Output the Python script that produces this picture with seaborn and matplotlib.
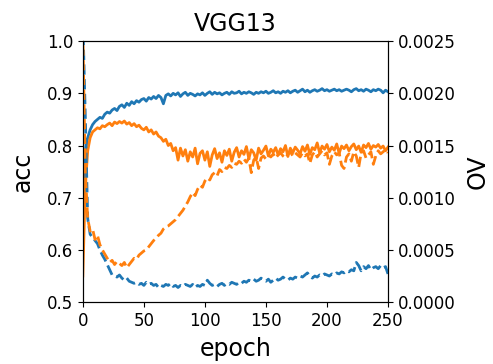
import matplotlib
matplotlib.use("Agg")
import matplotlib.pyplot as plt
import seaborn as sns
import numpy as np

epochs = list(range(0, 251, 2))

acc_blue = [
    0.64, 0.79, 0.815, 0.830, 0.840, 0.846, 0.850, 0.854, 0.852, 0.860,
    0.864, 0.862, 0.868, 0.871, 0.867, 0.875, 0.878, 0.873, 0.881, 0.877,
    0.884, 0.880, 0.886, 0.883, 0.888, 0.890, 0.885, 0.892, 0.889, 0.894,
    0.890, 0.896, 0.892, 0.880, 0.896, 0.899, 0.895, 0.900, 0.897, 0.901,
    0.894, 0.899, 0.902, 0.896, 0.900, 0.898, 0.895, 0.899, 0.897, 0.901,
    0.896, 0.900, 0.903, 0.898, 0.902, 0.899, 0.901, 0.897, 0.900, 0.902,
    0.898, 0.903, 0.900, 0.901, 0.904, 0.899, 0.902, 0.900, 0.903, 0.901,
    0.898, 0.902, 0.900, 0.903, 0.901, 0.904, 0.900, 0.902, 0.905, 0.901,
    0.903, 0.900, 0.904, 0.902, 0.905, 0.901, 0.904, 0.906, 0.902, 0.905,
    0.908, 0.903, 0.906, 0.902, 0.905, 0.907, 0.904, 0.906, 0.909, 0.905,
    0.907, 0.904, 0.906, 0.908, 0.905, 0.907, 0.904, 0.906, 0.908, 0.906,
    0.903, 0.907, 0.909, 0.905, 0.907, 0.904, 0.908, 0.906, 0.903, 0.907,
    0.905, 0.908, 0.906, 0.901, 0.906, 0.903,
]

acc_orange = [
    0.55, 0.72, 0.79, 0.815, 0.826, 0.830, 0.834, 0.832, 0.838, 0.836,
    0.840, 0.843, 0.838, 0.845, 0.842, 0.846, 0.843, 0.847, 0.841, 0.844,
    0.838, 0.842, 0.836, 0.839, 0.833, 0.830, 0.835, 0.826, 0.830, 0.822,
    0.826, 0.818, 0.815, 0.808, 0.812, 0.800, 0.804, 0.790, 0.796, 0.772,
    0.795, 0.780, 0.792, 0.770, 0.788, 0.778, 0.795, 0.765, 0.785, 0.790,
    0.772, 0.788, 0.760, 0.782, 0.794, 0.775, 0.786, 0.768, 0.790, 0.781,
    0.793, 0.770, 0.787, 0.796, 0.778, 0.790, 0.783, 0.798, 0.775, 0.792,
    0.786, 0.772, 0.795, 0.784, 0.791, 0.799, 0.780, 0.793, 0.787, 0.796,
    0.782, 0.794, 0.788, 0.800, 0.779, 0.795, 0.786, 0.797, 0.791, 0.784,
    0.798, 0.789, 0.801, 0.783, 0.796, 0.792, 0.805, 0.786, 0.799, 0.793,
    0.802, 0.788, 0.797, 0.791, 0.803, 0.785, 0.799, 0.794, 0.801, 0.790,
    0.798, 0.803, 0.792, 0.799, 0.787, 0.801, 0.796, 0.804, 0.793, 0.800,
    0.797, 0.802, 0.795, 0.799, 0.790, 0.797,
]

ov_blue = [
    0.00270, 0.00180, 0.00080, 0.00065, 0.00062, 0.00059, 0.00056, 0.00050, 0.00045, 0.00041,
    0.00036, 0.00031, 0.00026, 0.00025, 0.00024, 0.00026, 0.00023, 0.00021, 0.00023, 0.00020,
    0.00019, 0.00018, 0.00019, 0.00017, 0.00018, 0.00016, 0.00019, 0.00017, 0.00018, 0.00016,
    0.00017, 0.00014, 0.00016, 0.00015, 0.00017, 0.00016, 0.00018, 0.00015, 0.00016, 0.00014,
    0.00016, 0.00015, 0.00017, 0.00016, 0.00015, 0.00017, 0.00014, 0.00016, 0.00015, 0.00017,
    0.00016, 0.00021, 0.00018, 0.00016, 0.00017, 0.00015, 0.00017, 0.00018, 0.00016, 0.00018,
    0.00017, 0.00019, 0.00018, 0.00017, 0.00019, 0.00018, 0.00020, 0.00019, 0.00021, 0.00020,
    0.00022, 0.00020, 0.00021, 0.00023, 0.00021, 0.00020, 0.00022, 0.00019, 0.00021, 0.00023,
    0.00021, 0.00022, 0.00024, 0.00022, 0.00021, 0.00023, 0.00022, 0.00024, 0.00023, 0.00025,
    0.00024, 0.00026, 0.00028, 0.00025, 0.00023, 0.00025, 0.00024, 0.00026, 0.00025, 0.00027,
    0.00026, 0.00025, 0.00027, 0.00026, 0.00028, 0.00027, 0.00029, 0.00028, 0.00030, 0.00029,
    0.00031, 0.00030, 0.00038, 0.00035, 0.00030, 0.00034, 0.00032, 0.00035, 0.00031, 0.00033,
    0.00034, 0.00032, 0.00035, 0.00033, 0.00034, 0.00027,
]

ov_orange = [
    0.00260, 0.00125, 0.00080, 0.00068, 0.00070, 0.00060, 0.00064, 0.00055, 0.00050, 0.00046,
    0.00042, 0.00038, 0.00040, 0.00036, 0.00039, 0.00037, 0.00035, 0.00038, 0.00033, 0.00036,
    0.00039, 0.00042, 0.00041, 0.00045, 0.00047, 0.00049, 0.00050, 0.00053, 0.00056, 0.00059,
    0.00061, 0.00064, 0.00066, 0.00070, 0.00072, 0.00073, 0.00075, 0.00077, 0.00079, 0.00082,
    0.00085, 0.00088, 0.00092, 0.00096, 0.00101, 0.00105, 0.00102, 0.00108, 0.00112, 0.00110,
    0.00116, 0.00119, 0.00117, 0.00122, 0.00124, 0.00121, 0.00127, 0.00125, 0.00129, 0.00128,
    0.00131, 0.00129, 0.00133, 0.00132, 0.00135, 0.00133, 0.00137, 0.00134, 0.00138, 0.00124,
    0.00136, 0.00139, 0.00128, 0.00138, 0.00140, 0.00137, 0.00141, 0.00139, 0.00142, 0.00138,
    0.00141, 0.00143, 0.00140, 0.00138, 0.00142, 0.00144, 0.00140, 0.00143, 0.00141, 0.00139,
    0.00143, 0.00140, 0.00142, 0.00133, 0.00141, 0.00144, 0.00139, 0.00142, 0.00145, 0.00141,
    0.00143, 0.00132, 0.00140, 0.00144, 0.00141, 0.00143, 0.00131, 0.00128, 0.00139, 0.00142,
    0.00135, 0.00144, 0.00140, 0.00129, 0.00143, 0.00145, 0.00138, 0.00141, 0.00144, 0.00132,
    0.00140, 0.00145, 0.00142, 0.00144, 0.00146, 0.00143,
]

title = "VGG13"
xlabel = "epoch"
ylabel_left = "acc"
ylabel_right = "OV"

blue = "#1f77b4"
orange = "#ff7f0e"

fig = plt.figure(figsize=(4.93, 3.64), dpi=100)
ax = fig.add_axes([0.168, 0.170, 0.619, 0.717])
ax2 = ax.twinx()

lw = 2.0
sns.lineplot(x=epochs, y=acc_blue, ax=ax, color=blue, linewidth=lw)
sns.lineplot(x=epochs, y=acc_orange, ax=ax, color=orange, linewidth=lw)
sns.lineplot(x=epochs, y=ov_blue, ax=ax2, color=blue, linewidth=lw, linestyle="--")
sns.lineplot(x=epochs, y=ov_orange, ax=ax2, color=orange, linewidth=lw, linestyle="--")

ax.set_xlim(0, 250)
ax.set_ylim(0.5, 1.0)
ax2.set_ylim(0.0, 0.0025)
ax.set_xticks([0, 50, 100, 150, 200, 250])
ax.set_yticks([0.5, 0.6, 0.7, 0.8, 0.9, 1.0])
ax2.set_yticks([0.0, 0.0005, 0.0010, 0.0015, 0.0020, 0.0025])
ax2.set_yticklabels(["0.0000", "0.0005", "0.0010", "0.0015", "0.0020", "0.0025"])

ax.tick_params(labelsize=12)
ax2.tick_params(labelsize=12)
ax.set_xlabel(xlabel, fontsize=17, labelpad=5)
ax.set_ylabel(ylabel_left, fontsize=17, labelpad=9)
ax2.set_ylabel(ylabel_right, fontsize=17, labelpad=7)
ax.set_title(title, fontsize=17, pad=7)

fig.savefig("out.png", dpi=100)
